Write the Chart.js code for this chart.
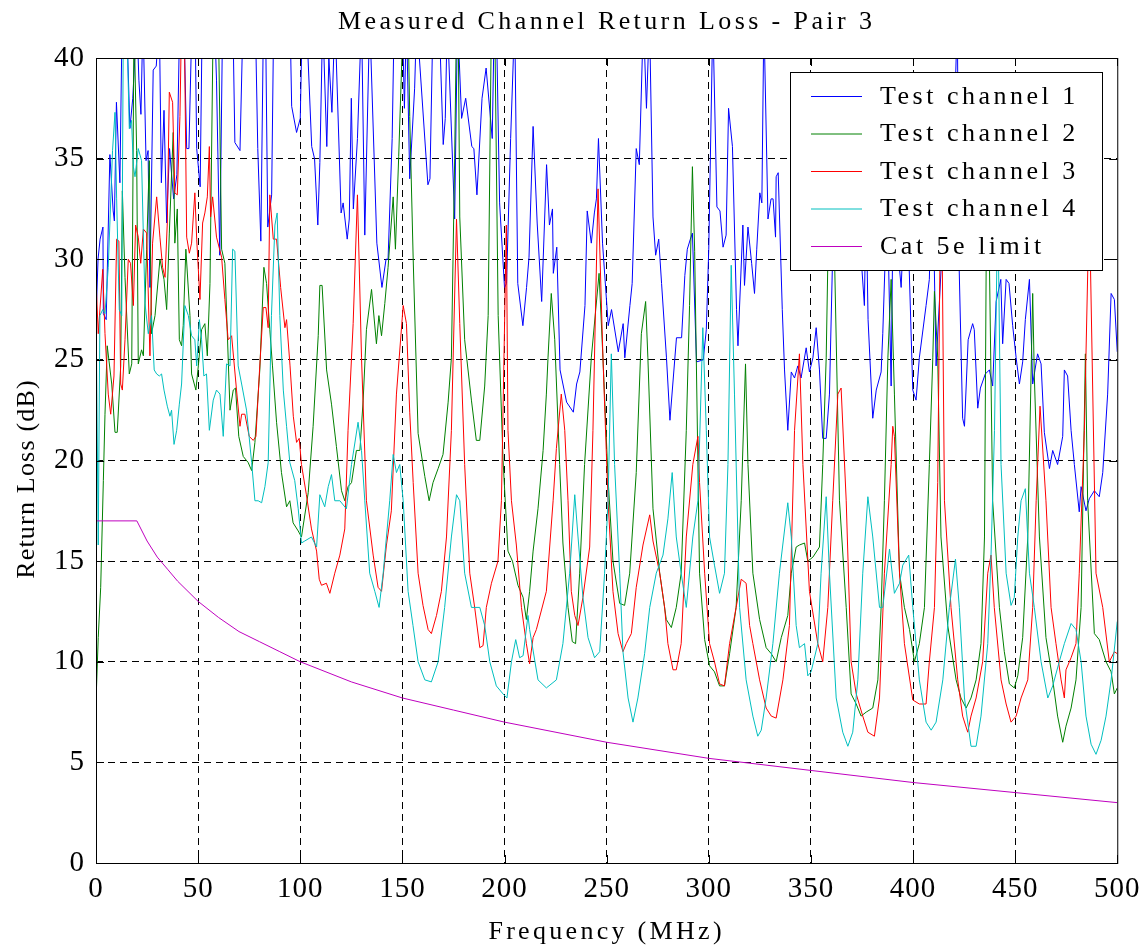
<!DOCTYPE html>
<html>
<head>
<meta charset="utf-8">
<title>Measured Channel Return Loss - Pair 3</title>
<script src="https://cdn.jsdelivr.net/npm/chart.js@4.4.0/dist/chart.umd.min.js"></script>
<style>
  html, body { margin: 0; padding: 0; background: #fff; }
  #wrap { position: relative; width: 1148px; height: 949px; }
</style>
</head>
<body>
<div id="wrap"><canvas id="rl"></canvas></div>
<script>
// ===== DATA =====
const TITLE   = 'Measured Channel Return Loss - Pair 3'
const X_LABEL = 'Frequency (MHz)'
const Y_LABEL = 'Return Loss (dB)'
const xTicks  = [0, 50, 100, 150, 200, 250, 300, 350, 400, 450, 500]
const yTicks  = [0, 5, 10, 15, 20, 25, 30, 35, 40]
const seriesNames = ['Test channel 1', 'Test channel 2', 'Test channel 3', 'Test channel 4', 'Cat 5e limit']

// Test channel 1 (values above 40 run off the top of the axes)
const ch1Freq = [0,1,2,3.4,3.6,5,6.8,8.4,9,10,11.7,12.8,15,16.6,18,20,21,22,23,24.5,25.5,26.4,28,29.5,31,32,33.3,34.6,36,38,39.6,41,43,44.4,45.5,47,48.5,49.3,51,52,58,59,60.6,62,67,68,70.5,72,78,79.2,80.7,82,83,84.1,86,87,95,95.8,98.2,100,
  101,103,105.6,107,108.6,109.6,111,113,114,115.5,117,120,121,123,124,125,126,128,130,131.6,134,137.5,140,142,143,145,146,150,151,152,153.6,156,157,162.5,163.5,165,168,170,171,172,175.6,177,179,181,184,185,186.5,189,191,194,195,196,197.6,200,
  201,203,205,206.5,209,210.8,212,214,216,218.2,220.6,222,223.5,223.9,225.6,227.2,230.4,233.7,235.3,236.9,239.4,240.5,242.5,244,245,246,248,250.8,252.4,255.7,258.1,258.9,261.4,262.5,264.5,266,268,269.5,271,272.7,274,275.5,276.9,279.3,281,284.2,286.7,288.3,289.5,291,292,294,297.3,298.8,300,
  302,304,305.5,307,308.5,309.7,311.6,313.6,314.3,316.7,317.5,319.2,321,322.4,323.5,325,326,327,329,330.5,331.5,332.7,333,334,336,337.1,338.7,340.4,342,343.6,345.2,347.7,349.3,351,352.6,354.2,355.8,357.5,359.1,360.7,362,365,368,371,374,376.2,377,378,380.3,382,384.4,385.2,387,388,389.3,390.5,391.5,393,394.2,396,398,
  399.9,401.5,403.1,406.4,408,409,410,411.3,414,416,418,420,421.7,422.5,424.3,425.2,427,429.2,430,431.7,433,435.4,437.4,439,440.7,443,443.9,445.6,447,448.8,450.5,452.1,453.7,455,457,458.6,461,462.7,464.3,466.8,468.4,470.8,473.3,474.1,475.7,477.4,479,481.4,482.3,484.7,486.3,488.8,491.2,492.9,495.3,497,498.6,500]
const ch1Loss = [27,30,31,31.6,27.3,27,35.2,32.4,31.9,37.8,33.8,42,42,36.5,38,42,38.9,37.2,42,34.9,35.4,28.6,39.4,39.6,42,33.8,37.4,31.8,35.5,33,34.2,42,42,35.5,35.5,42,42,35.5,33.6,42,42,38.9,30.2,42,42,35.8,35.4,42,42,35.5,30.9,42,42,31.6,33.2,42,42,37.6,36.3,37,
  42,42,35.6,35,31.7,34.8,42,35.6,40,37.3,42,32.3,32.8,31,32,38,32.5,36,42,31.2,42,30.8,28.6,30,30,36,42,42,37.5,42,34,38.5,42,33.7,34,42,42,35.7,37,42,32,42,37,38,35.6,35.5,33.2,38,39.5,36,42,42,32.8,28.6,
  28.8,36,42,28.8,26.7,28.6,30.1,36.6,31.8,27.9,34.7,31.7,32.5,29.3,30.6,24.5,22.9,22.4,23.8,24.4,27.7,32.4,30.8,32.3,33,36,30.8,26.7,27.5,25.4,26.8,25.1,27.7,28.8,35.5,34.7,42,37.5,42,32.1,30.2,31,28.8,25.1,22,26.1,26.1,29.2,30.5,31,31.3,24.9,25,26.5,30.5,
  42,32.6,32.4,30.6,31.2,37.5,35.6,27.5,25.7,31.7,28.7,31.6,29.8,28.3,30.5,33.3,32.8,42,32,33,33,31.1,34.1,34.3,27.5,24.5,21.5,24.4,24.1,24.7,24.1,25.6,24.4,25.1,26.6,24.5,21.1,21.1,23.3,30.4,36,38,34,35,31,27.7,33,27,22.1,23.5,24.4,26.3,32,30,23.7,35,35,30,28.6,33,30,
  23.5,23,25.1,27.7,29,33,32,24.7,30,34,31,36,42,30,22.1,21.7,26,26.8,26.5,22.6,23.6,24.3,24.5,23.7,27.9,29,25.8,29,28.8,26.7,25.1,23.8,24.9,27,29,23.8,25.3,24.8,21.4,19.6,20.5,19.8,21.2,24.5,24.2,21.5,19.8,17.45,18.7,17.5,18.1,18.5,18.2,19.4,23.3,28.3,28,25.4]

// Test channel 2
const ch2Freq = [0,1.1,2.3,3.6,4.4,5.5,7.7,9.3,10.4,12.1,12.9,14.2,16.3,17.5,18.6,19.9,20.7,22.3,23.2,24.8,26.1,27.2,28.9,31.3,33.3,34.6,35.9,37.8,38.6,39.8,40.8,41.9,42.7,44,46,46.8,48.9,50.1,51.7,53.3,54.5,55.8,57.4,59.9,61.5,63.1,65.6,67.2,68.3,69.9,72.1,74.5,76.2,77.8,80.2,82.2,83.5,85.1,86.4,88.4,90.8,93.3,94.9,96.5,99,
  100.6,103.9,106.3,108.8,109.6,110.7,112.9,115.3,117.7,120.2,121.8,123.4,125.1,127.5,129.2,130.8,132.4,134.9,137.3,138.5,139.8,141.4,143,145.5,146.6,148.2,150.4,152.8,153.6,155.3,157.7,161,163.1,165,167.5,169.9,172.4,174,175.6,176.5,177.3,178.1,180.5,183.8,186.2,187.9,190.3,192,193.6,195.2,196.9,199.3,
  201.7,203.9,206.6,209.1,210.7,212.3,214,216.4,218.9,220.5,221.3,222.9,224.6,227,228.6,231.1,233.2,234.8,236.8,239.2,242.5,246.3,248.2,250.7,253.1,256.4,258.8,261.3,264.5,267,269.1,270.2,272.7,276,279.2,281.7,284.1,286.5,289,290.6,292,293.1,295.5,298,
  300.4,302.8,305.3,307.7,310.2,313.4,315.9,318,319.2,321.6,324.9,328.1,330.6,333,335.5,338.7,340.4,342.8,344.4,346.9,348.5,351,354.2,355.8,357.5,359.5,361.6,364,367.3,369.7,372.2,374.6,377.1,380.3,382.8,384.4,386,387.7,389.3,390.9,393.4,395.8,398.3,
  400.7,403.1,405.6,408,409.7,410.5,412.1,413.7,417,421.1,423.5,426,428.4,430.9,433.3,435,436.2,437.4,439,442.3,444.7,447.2,449.6,451.3,453.7,456.2,458.6,459.4,461.9,465.1,468.4,470.8,473.3,474.9,477.4,479.8,482.3,484.4,485.5,488.8,491.2,494.5,497,498.6,500]
const ch2Loss = [8,11.2,13.7,19,22.3,25.7,23.8,21.4,21.4,24.7,33.4,29.1,24.3,24.8,42,35.4,24.8,25.5,25.2,30.5,34.9,26.3,27.2,30,29,27.5,31.3,36.3,30.8,32.5,26,25.7,26.7,30.5,27.2,24.3,23.5,24.7,26.5,26.8,25.2,28.8,42,42,30.5,29.8,22.5,23.5,23.6,21.2,20.2,19.9,19.5,20.9,24.5,29.6,28.8,26.5,24.7,21.9,19.4,17.7,18,16.9,16.5,
  16.2,18.4,21.7,26.2,28.7,28.7,24.5,22.8,20.7,18.5,18,18.7,18.9,20.5,20.5,23,26.5,28.5,25.8,27.2,26.2,27.8,29.6,33.1,30.5,35.1,42,42,37.1,30,21.35,19.2,18,18.9,19.6,20.3,22.9,25.1,35,42,42,32.1,26,23,21,21,23.7,27.2,42,42,27.2,20,
  15.5,15,13.8,13.2,12.1,13.5,15.5,17.6,20.5,23.3,25.1,28.3,26,19.8,15.9,12.7,11,10.9,14.4,19.8,25.1,29.3,25.1,19.1,15,12.9,12.8,14.4,19.4,26.3,27.9,25.1,17.6,14.4,12.1,11.7,12.7,14.4,21.5,27.7,34.6,30.4,14.4,11.1,
  9.8,9.5,8.8,8.8,10.4,12.7,18,24.8,19.8,14.4,12.1,10.7,10.4,10,11.2,12.3,14.4,15.7,15.8,15.9,15,15.2,15.7,19.8,25.1,37,30,18,12.7,8.4,7.9,7.3,7.5,7.7,9.1,12.7,18,25.1,29,23.3,14.4,12.7,11.6,
  10,10.9,12.7,19.8,25.1,28.4,25.1,16.2,11.8,9.1,8.2,7.7,8.2,9.1,10.9,16.2,36,30,18,12.7,10.5,8.9,8.7,9.3,11.2,16.2,28.3,24.2,16.2,11.2,9.1,7.3,6,6.8,7.7,9.1,12.7,25.3,18,11.4,11.1,10,9.5,8.4,8.7]

// Test channel 3
const ch3Freq = [0,1.1,3.3,4.4,6,7.2,8.8,10.1,11.2,12.1,12.9,14.2,15.8,16.9,18.3,19.4,20.7,21.9,23.2,24.8,26.4,27.7,29.7,31.3,32.6,33.8,34.9,35.9,37.5,38.6,39.8,41.1,41.9,43.2,44.4,45.7,46.8,48.4,49.3,50.9,52.2,53.3,54.5,55.5,56.1,57.1,59,61.5,63.1,64.7,66.4,68.8,70.5,71.3,72.9,75,77,78.3,79.9,81.9,83.2,84.3,85.1,86.8,88.4,90.4,92.5,93.3,95,96.6,98.2,99.5,
  100.6,103,105.5,108,109.3,110.4,112.8,114.5,116.9,119.4,121.8,123.4,125.9,128,130,132.4,135.7,138.1,139.8,142.2,144.6,147.1,150.4,152,153.6,155.3,157.7,160.1,162.6,164.2,166.7,169.1,171.6,174,176.5,178.1,180.5,183,185.4,187.9,189.5,191.1,193.6,196.8,198.5,
  200.9,201.7,203.4,205.8,208.3,210.7,212.3,214,215.6,220.5,223.8,225.4,227.8,229.5,231.1,232.7,234.4,236,238.4,241.7,243.3,245.8,248.2,250.7,253.1,255.6,258,259.6,262.1,264.5,267.8,271.1,272.7,276,278.4,280,282.5,284.1,286.5,289,292.2,294.7,295.5,298,
  300.4,302.8,305.3,307.7,310.2,313.4,315.9,318.3,320,321.6,324.9,328.1,330.6,333,336.3,339.5,342,344.4,346.1,349.3,353.4,355.8,358.3,360.7,363.2,364.8,367.3,369.7,372.2,375.4,377.9,381.1,383.6,386,389.3,390.1,390.9,393.4,395.8,399.9,
  403.1,406.4,408,410.5,412.1,413.8,415.4,418.6,421.9,424.3,426.8,428.4,430.9,434.1,436.6,438.2,439.8,443.1,445.6,448,450.5,452.9,456.2,458.6,460.3,462.2,465.1,467.6,470,472.5,474.1,474.9,477.4,479.8,481.4,483.9,486.3,489.6,492.9,496.1,498.6,500]
const ch3Loss = [29,26.3,29.5,26.3,23.3,22.3,24.2,31,30.9,23.8,23.5,26,30,29.8,27.7,31.7,31.1,29.8,31.5,31.3,25.2,30.8,33.1,31.1,29.6,29.1,31.8,38.3,37.8,33.3,33.2,37.1,42,42,31.1,30.3,30.8,33.3,31,28,31.8,32.3,33.1,35.6,32.1,33.1,31.1,30.1,28,26,26.2,23.5,21.7,22.3,22.3,21.2,21,21.2,24.2,27.6,27.6,26.6,33.2,31,31,28.6,26.6,27,24.7,22.2,20.9,21.1,
  19.8,18.3,16.6,15.5,14.1,13.8,13.9,13.4,14.4,15.3,16.6,21.5,26.8,33.2,25.1,18,15.3,13.7,13.5,15.8,17.5,23.3,27.7,26.8,22.4,18.9,14.4,12.8,11.6,11.4,12.3,13.5,16.2,21.5,32,26.8,19.8,14.4,12.7,10.7,10.8,12.7,13.9,15,18,
  31.7,21.5,18,15.8,12.7,10.9,9.9,11.2,11.6,13.5,18,20.6,23.3,21.5,18,13.5,12.3,11.8,13.2,15.7,21.5,33.5,25.1,18,13.5,11.4,10.5,10.9,11.4,13.7,15.8,17.3,16,14.4,12.7,10.9,9.6,9.6,10.9,16.2,19.8,21.2,18.9,14.4,
  10.9,10,8.9,8.8,10.9,12.7,14.1,13.9,11.8,10.9,9.1,7.7,7.3,7.2,9.1,11.8,21.5,25.3,19.8,13.5,10.9,10,12.7,18,23.3,23.6,18,10,8.4,7.3,6.5,6.3,8.2,14.4,19.8,21.7,21.2,14.4,10.9,8.1,
  7.9,7.9,10,12.7,18.9,36,18,12.7,9.1,7.3,6.5,7.3,8.2,10,14.4,15.3,12.7,9.1,7.9,7,7.3,8.2,9.1,12.7,18,22.7,18,12.7,10.9,9.1,8.2,9.6,10.2,10.9,14.4,21.5,33,14.4,12.7,10,10.5,10.4]

// Test channel 4
const ch4Freq = [0,1.1,1.9,3.3,4.4,6,8.1,9.3,10.1,11.4,12.6,13.4,15,16.3,17.4,18.3,19.1,20.7,22.3,24,25.6,27.2,28.5,29.7,31,32.1,33.3,34.9,36.2,37,38.2,39.5,40.8,41.9,43.5,45.2,46.8,48.4,49.3,50.6,51.7,52.8,54.1,55.5,57.4,59,60.7,62.3,63.9,65.6,66.9,68,69.6,71.3,73.7,76.2,77.8,79.4,81.1,82.7,84.3,85.9,87.6,88.7,90,91.7,93.3,94.9,97.3,99,
  100.6,102.2,105.5,108,109.6,112,113.7,115.3,116.9,119.4,122.6,125.1,128.3,130,131.6,134,136.5,138.6,140.6,143.8,145.5,147.1,148.7,150.4,152.8,155.2,157.7,161,164.2,167.5,170.7,174,176.5,178.1,180.5,183.8,187.9,190.3,192.8,196,199.3,
  201.2,203.4,205.5,207.4,209.1,211.5,212.3,216.4,220.5,225.4,228.6,231.9,234.4,236,238.4,240.9,244.1,246.6,249,250.7,252.3,253.9,256.4,258,260.5,262.9,265.3,268.6,271.1,274.3,277.6,280,282.1,284.1,286.5,289,292.2,294.7,297.1,298.8,
  300.4,302.8,305.3,307.7,309.4,311,312.6,315.1,318.3,321.6,324,325.7,328.1,331.4,334.6,338.7,340.4,342.8,344.4,346.9,348.5,350.1,353.4,355,357.5,359.1,362.4,365.6,368.1,370.5,373,375.4,377.9,380.3,383.6,385.2,388.5,390.9,393.4,395,397.9,399.9,
  403.1,406.4,408.9,411.3,414.6,417.8,420.8,422.7,425.2,428.4,430.9,433.3,436.6,438.2,439.9,441.5,443.1,445.6,448,449.6,451.3,452.9,455,457,459.4,462.7,466,468.4,471.6,474.1,477.4,479.8,482.3,484.7,487.2,489.6,492.1,494.5,497,500]
const ch4Loss = [28,15.8,27.2,27.5,27.3,29.6,35.4,37.3,33,27.5,27.2,42,42,36.5,36.9,34.6,34.1,35.5,34.9,27.8,26.3,27.2,24.5,24.3,24.2,24.3,23.5,22.7,22.2,22.5,20.8,21.5,22.8,23.8,27.7,27.2,26.2,26,24.7,27,26,24.2,24.3,21.5,23,23.5,23.3,21.2,24.8,24.7,30.5,30.4,24.7,23.8,22.5,19.9,18,18,17.9,18.7,19.9,27.2,31.7,32.3,27.2,23.5,21.7,19.9,19,17.6,
  15.9,16,16.2,15.7,18.3,17.7,18.7,19.3,18,18,17.6,19.8,21.9,20.5,18,14.4,13.5,12.7,14.4,18,20.3,19.4,19.8,18,13.5,11.8,10,9.1,9,10,12.7,16.2,18.3,18,14.4,12.7,12.7,11.8,10,8.8,8.4,
  8.2,10,11.1,10.2,10.3,12.3,11.6,9.1,8.7,9.1,10.9,14.4,18.3,16.2,13.2,11.2,10.2,10.5,14.4,18,25.3,19.8,14.4,10.5,8.2,7,8.2,10.4,12.7,14.4,15.3,17.1,19.4,16.2,14.4,12.7,16.2,18,26.6,21.5,
  16.2,14.8,13.4,14.4,19.8,29.7,23.3,12.7,9.1,7.3,6.3,6.6,8.2,10.9,14.4,17.9,16.2,11.8,10.7,10.9,9.3,9.5,10.9,14.4,18.2,14.4,8.2,6.5,5.8,6.5,9.1,14.4,18.2,16.2,12.7,12.7,15.6,13.4,13.9,14.8,15.3,12.7,
  9.1,7,6.6,7,9.1,12.7,15.1,12.7,8.2,5.8,5.8,7.3,10.9,15.3,21.5,33,19.8,14.4,12.8,13.2,16.2,18,18.6,14.4,12.7,10,8.2,8.8,10,10.9,11.9,11.6,10,7.3,5.9,5.4,6.1,7.3,9.1,12]

// Cat 5e channel limit
const limFreq = [0, 20, 25, 30, 35, 40, 50, 60, 70, 80, 90, 100, 125, 150, 175, 200, 250, 300, 350, 400, 450, 500]
const limLoss = [17, 17, 16.0, 15.2, 14.6, 14.0, 13.0, 12.2, 11.5, 11.0, 10.5, 10.0, 9.0, 8.2, 7.6, 7.0, 6.0, 5.2, 4.6, 4.0, 3.5, 3.0]

// ===== STYLE =====
const SERIF = '"Liberation Serif", "Times New Roman", Times, serif'
const COLORS = ['#0000ff', '#008000', '#ff0000', '#00bfbf', '#bf00bf']

const pts = (xs, ys) => xs.map((x, i) => ({ x, y: ys[i] }))
const series = [
  pts(ch1Freq, ch1Loss), pts(ch2Freq, ch2Loss), pts(ch3Freq, ch3Loss),
  pts(ch4Freq, ch4Loss), pts(limFreq, limLoss)
]

// MATLAB-like frame: solid box, inward ticks, title, axis labels, boxed legend
const matlabFrame = {
  id: 'matlabFrame',
  beforeDraw(chart) { chart.ctx.letterSpacing = '1px' },
  afterDraw(chart) {
    const { ctx, chartArea: a, scales: { x, y } } = chart
    ctx.save()
    ctx.strokeStyle = '#000'; ctx.lineWidth = 1
    ctx.strokeRect(a.left + 0.5, a.top + 0.5, a.right - a.left, a.bottom - a.top)
    ctx.beginPath()
    xTicks.forEach(v => {
      const px = Math.round(x.getPixelForValue(v)) + 0.5
      ctx.moveTo(px, a.bottom); ctx.lineTo(px, a.bottom - 8)
      ctx.moveTo(px, a.top);    ctx.lineTo(px, a.top + 8)
    })
    yTicks.forEach(v => {
      const py = Math.round(y.getPixelForValue(v)) + 0.5
      ctx.moveTo(a.left, py);  ctx.lineTo(a.left + 8, py)
      ctx.moveTo(a.right, py); ctx.lineTo(a.right - 8, py)
    })
    ctx.stroke()

    ctx.fillStyle = '#000'
    ctx.textAlign = 'center'; ctx.textBaseline = 'middle'
    ctx.font = '26px ' + SERIF
    ctx.letterSpacing = '3.4px'
    ctx.fillText(TITLE, (a.left + a.right) / 2, 22)
    ctx.letterSpacing = '3.3px'
    ctx.fillText(X_LABEL, (a.left + a.right) / 2, 932)
    ctx.save()
    ctx.translate(27, 479)
    ctx.rotate(-Math.PI / 2)
    ctx.letterSpacing = '1.2px'
    ctx.fillText(Y_LABEL, 0, 0)
    ctx.restore()

    // legend
    const L = { left: 790, top: 72, right: 1102, bottom: 270 }
    ctx.fillStyle = '#fff'
    ctx.fillRect(L.left, L.top, L.right - L.left, L.bottom - L.top)
    ctx.strokeStyle = '#000'
    ctx.strokeRect(L.left + 0.5, L.top + 0.5, L.right - L.left, L.bottom - L.top)
    ctx.textAlign = 'left'
    ctx.letterSpacing = '3.5px'
    chart.data.datasets.forEach((ds, i) => {
      const ly = 96 + i * 37.5
      ctx.strokeStyle = ds.borderColor
      ctx.beginPath(); ctx.moveTo(811, ly + 0.5); ctx.lineTo(862, ly + 0.5); ctx.stroke()
      ctx.fillStyle = '#000'
      ctx.fillText(ds.label, 880, ly + 1)
    })
    ctx.restore()
    ctx.letterSpacing = '0px'
  }
}

const gridColor = ctx => (ctx.index === 0 || ctx.index === ctx.chart.scales[ctx.scale.id].ticks.length - 1) ? 'rgba(0,0,0,0)' : '#000'

new Chart(document.getElementById('rl'), {
  type: 'line',
  data: {
    datasets: series.map((data, i) => ({
      label: seriesNames[i],
      data,
      borderColor: COLORS[i],
      backgroundColor: COLORS[i],
      borderWidth: 1,
      pointRadius: 0,
      tension: 0,
      fill: false,
      order: 5 - i,
    }))
  },
  options: {
    responsive: true, maintainAspectRatio: false,
    animation: false,
    devicePixelRatio: 1,
    layout: { padding: { left: 0, right: 30, top: 58, bottom: 0 } },
    plugins: { legend: { display: false }, tooltip: { enabled: false }, title: { display: false } },
    scales: {
      x: {
        type: 'linear', min: 0, max: 500,
        afterFit: s => { s.height = 86 },
        afterBuildTicks: s => { s.ticks = xTicks.map(v => ({ value: v })) },
        grid: { color: gridColor, drawTicks: false, lineWidth: 1 },
        border: { display: false, dash: [7, 5] },
        ticks: { color: '#000', padding: 9, maxRotation: 0, font: { family: SERIF, size: 29 } }
      },
      y: {
        type: 'linear', min: 0, max: 40,
        afterFit: s => { s.width = 96 },
        afterBuildTicks: s => { s.ticks = yTicks.map(v => ({ value: v })) },
        grid: { color: gridColor, drawTicks: false, lineWidth: 1 },
        border: { display: false, dash: [7, 5] },
        ticks: { color: '#000', padding: 11, font: { family: SERIF, size: 29 } }
      }
    }
  },
  plugins: [matlabFrame]
})
</script>
</body>
</html>
